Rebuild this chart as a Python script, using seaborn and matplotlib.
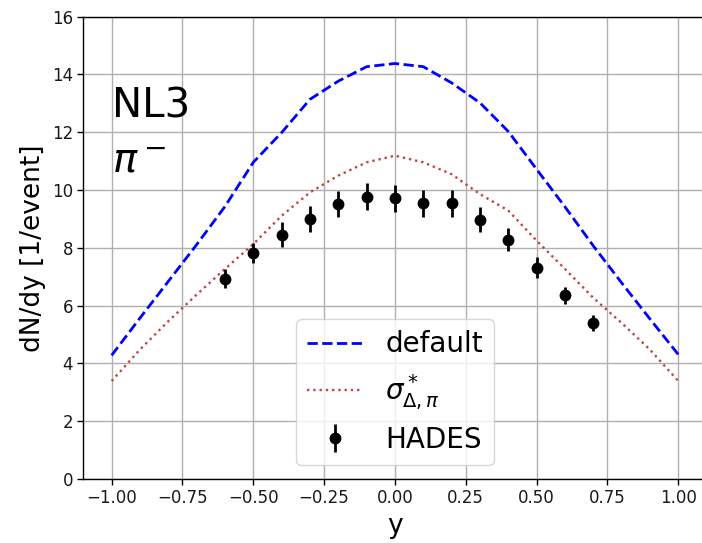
import numpy as np
import pandas as pd
import matplotlib
matplotlib.use("Agg")
import matplotlib.pyplot as plt
import seaborn as sns

# model rapidity grid
y_model = [-1.0, -0.9, -0.8, -0.7, -0.6, -0.5, -0.4, -0.3, -0.2, -0.1, 0.0,
           0.1, 0.2, 0.3, 0.4, 0.5, 0.6, 0.7, 0.8, 0.9, 1.0]
default_vals = [4.28, 5.57, 6.84, 8.11, 9.43, 10.96, 11.99, 13.14, 13.77, 14.27, 14.38,
                14.27, 13.71, 13.02, 12.03, 10.72, 9.42, 8.07, 6.79, 5.54, 4.31]
sigma_vals = [3.39, 4.48, 5.46, 6.38, 7.27, 8.13, 9.11, 9.92, 10.50, 10.96, 11.19,
              10.96, 10.55, 9.86, 9.29, 8.25, 7.27, 6.27, 5.40, 4.48, 3.39]

# HADES data
y_hades = [-0.6, -0.5, -0.4, -0.3, -0.2, -0.1, 0.0, 0.1, 0.2, 0.3, 0.4, 0.5, 0.6, 0.7]
hades_vals = [6.93, 7.81, 8.46, 9.00, 9.52, 9.77, 9.72, 9.54, 9.54, 8.98, 8.28, 7.31, 6.36, 5.40]
hades_err = [0.33, 0.35, 0.44, 0.45, 0.46, 0.47, 0.47, 0.46, 0.46, 0.43, 0.40, 0.37, 0.29, 0.27]

xticks = [-1.0, -0.75, -0.5, -0.25, 0.0, 0.25, 0.5, 0.75, 1.0]
yticks = [0, 2, 4, 6, 8, 10, 12, 14, 16]

sns.set_style("ticks")
plt.rcParams['font.family'] = ['DejaVu Sans']
plt.rcParams.update({"text.color": "black", "axes.labelcolor": "black",
                     "xtick.color": "black", "ytick.color": "black"})

fig = plt.figure(figsize=(7.02, 5.43), dpi=100)
ax = fig.add_axes([83.3 / 702, 64 / 543, 623.3 / 702, 462.3 / 543])

df_model = pd.DataFrame({"y": y_model, "default": default_vals, "sigma": sigma_vals})

sns.lineplot(data=df_model, x="y", y="default", ax=ax, color="blue",
             linestyle="--", linewidth=2, label="default")
sns.lineplot(data=df_model, x="y", y="sigma", ax=ax, color="#c04545",
             linestyle=":", linewidth=1.7, label=r"$\sigma^*_{\Delta,\pi}$")
ax.errorbar(y_hades, hades_vals, yerr=hades_err, fmt="o", color="black",
            markersize=7.5, elinewidth=2, capsize=0, label="HADES")

ax.set_xlim(-1.1, 1.1)
ax.set_ylim(0, 16)
ax.set_xticks(xticks)
ax.set_yticks(yticks)
ax.grid(True, color="#b0b0b0", linewidth=1.0)
ax.set_axisbelow(True)
for s in ax.spines.values():
    s.set_visible(True)
    s.set_color("black")
    s.set_linewidth(1.0)
ax.tick_params(axis="both", labelsize=12, direction="out", length=4, width=1,
               colors="black", labelcolor="#1a1a1a")

ax.set_xlabel("y", fontsize=19)
ax.set_ylabel("dN/dy [1/event]", fontsize=19)

ax.text(-1.0, 12.5, "NL3", fontsize=29, va="baseline", ha="left", color="black")
ax.text(-1.0, 10.6, r"$\pi^-$", fontsize=29, va="baseline", ha="left", color="black")

leg = ax.legend(loc="lower center", fontsize=20, framealpha=0.8)
for t in leg.get_texts():
    t.set_color("black")

fig.savefig("out.png", dpi=100)
